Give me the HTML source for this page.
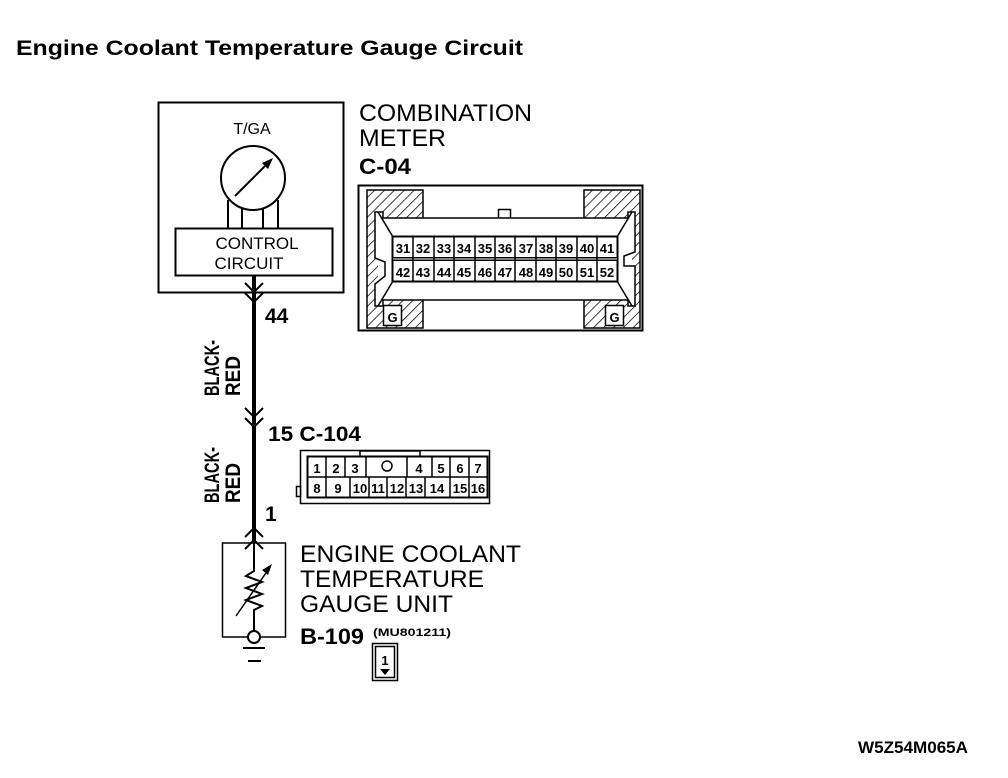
<!DOCTYPE html>
<html><head><meta charset="utf-8"><style>
html,body{margin:0;padding:0;background:#fff;}
svg{display:block;}
text{font-family:"Liberation Sans",sans-serif;fill:#000;}
.b{font-weight:bold;}
.pin{font-size:13px;font-weight:bold;text-anchor:middle;}
</style></head><body>
<svg width="1008" height="778" viewBox="0 0 1008 778" xmlns="http://www.w3.org/2000/svg">
<defs>
<pattern id="h" width="7" height="7" patternUnits="userSpaceOnUse" patternTransform="rotate(45)">
<rect width="7" height="7" fill="#fff"/><line x1="0" y1="0" x2="0" y2="7" stroke="#000" stroke-width="1.5"/>
</pattern>
</defs>
<text x="16" y="55" class="b" font-size="21" textLength="507" lengthAdjust="spacingAndGlyphs">Engine Coolant Temperature Gauge Circuit</text>

<!-- meter box -->
<rect x="158.5" y="102.5" width="185" height="190" fill="none" stroke="#000" stroke-width="2"/>
<text x="252" y="134" font-size="16" text-anchor="middle">T/GA</text>
<circle cx="253" cy="178" r="32" fill="none" stroke="#000" stroke-width="2"/>
<line x1="235" y1="196" x2="270" y2="161" stroke="#000" stroke-width="2"/>
<polygon points="273,158 262,163 268,169" fill="#000"/>
<g stroke="#000" stroke-width="2">
<line x1="228" y1="200" x2="228" y2="228"/><line x1="242" y1="208" x2="242" y2="228"/>
<line x1="263" y1="208" x2="263" y2="228"/><line x1="278" y1="200" x2="278" y2="228"/>
</g>
<rect x="175.5" y="228.5" width="157" height="47" fill="none" stroke="#000" stroke-width="2"/>
<text x="257" y="249" font-size="17" text-anchor="middle">CONTROL</text>
<text x="249" y="269" font-size="17" text-anchor="middle">CIRCUIT</text>

<!-- wire -->
<line x1="254" y1="276" x2="254" y2="543" stroke="#000" stroke-width="4"/>
<g fill="none" stroke="#000" stroke-width="2">
<polyline points="245,283 254,292 263,283"/><polyline points="245,293 254,302 263,293"/>
<polyline points="245,408 254,417 263,408"/><polyline points="245,418 254,427 263,418"/>
<polyline points="245,537 254,528 263,537"/><polyline points="245,549 254,540 263,549"/>
</g>
<text x="265" y="323" class="b" font-size="21">44</text>
<text x="268" y="441" class="b" font-size="21" textLength="93" lengthAdjust="spacingAndGlyphs">15 C-104</text>
<text x="265" y="521" class="b" font-size="21">1</text>
<g transform="translate(219,368) rotate(-90)"><text x="-28" y="0" class="b" font-size="21" textLength="56" lengthAdjust="spacingAndGlyphs">BLACK-</text></g>
<g transform="translate(240,368) rotate(-90)"><text x="-28" y="0" class="b" font-size="21" textLength="40" lengthAdjust="spacingAndGlyphs">RED</text></g>
<g transform="translate(219,475) rotate(-90)"><text x="-28" y="0" class="b" font-size="21" textLength="56" lengthAdjust="spacingAndGlyphs">BLACK-</text></g>
<g transform="translate(240,475) rotate(-90)"><text x="-28" y="0" class="b" font-size="21" textLength="40" lengthAdjust="spacingAndGlyphs">RED</text></g>

<!-- combination meter -->
<text x="359" y="121" font-size="24" textLength="173" lengthAdjust="spacingAndGlyphs">COMBINATION</text>
<text x="359" y="146" font-size="24" textLength="87" lengthAdjust="spacingAndGlyphs">METER</text>
<text x="359" y="174" class="b" font-size="22" textLength="52" lengthAdjust="spacingAndGlyphs">C-04</text>
<rect x="358.5" y="185.5" width="284" height="145" fill="#fff" stroke="#000" stroke-width="2"/>
<rect x="367" y="190" width="56" height="138" fill="url(#h)" stroke="#000" stroke-width="1.5"/>
<rect x="584" y="190" width="56" height="138" fill="url(#h)" stroke="#000" stroke-width="1.5"/>
<rect x="378" y="218" width="254" height="82" fill="#fff"/>
<rect x="498.5" y="209.5" width="12" height="9" fill="#fff" stroke="#000" stroke-width="1.5"/>
<polygon points="375,212 383,212 383,218 628,218 628,212 635,212 635,252 624,256 624,266 635,266 635,306 628,306 628,300 383,300 383,306 375,306 375,284 385,276 385,262 375,258" fill="#fff" stroke="#000" stroke-width="1.5"/>
<g stroke="#000" stroke-width="1.5" fill="none">
<line x1="378" y1="212" x2="393" y2="237"/><line x1="632" y1="212" x2="617" y2="237"/>
<line x1="378" y1="306" x2="393" y2="281"/><line x1="632" y1="306" x2="617" y2="281"/>
</g>
<rect x="392.5" y="236.5" width="225" height="45" fill="#fff" stroke="#000" stroke-width="2"/>
<line x1="393" y1="259" x2="617" y2="259" stroke="#000" stroke-width="4"/>
<line x1="393" y1="259" x2="617" y2="259" stroke="#fff" stroke-width="1"/>
<g stroke="#000" stroke-width="1.5">
<line x1="413" y1="237" x2="413" y2="281"/><line x1="434" y1="237" x2="434" y2="281"/><line x1="454" y1="237" x2="454" y2="281"/><line x1="475" y1="237" x2="475" y2="281"/><line x1="495" y1="237" x2="495" y2="281"/><line x1="515" y1="237" x2="515" y2="281"/><line x1="536" y1="237" x2="536" y2="281"/><line x1="556" y1="237" x2="556" y2="281"/><line x1="577" y1="237" x2="577" y2="281"/><line x1="597" y1="237" x2="597" y2="281"/>
</g>
<g>
<text x="403" y="253" class="pin">31</text><text x="423" y="253" class="pin">32</text><text x="444" y="253" class="pin">33</text><text x="464" y="253" class="pin">34</text><text x="485" y="253" class="pin">35</text><text x="505" y="253" class="pin">36</text><text x="526" y="253" class="pin">37</text><text x="546" y="253" class="pin">38</text><text x="566" y="253" class="pin">39</text><text x="587" y="253" class="pin">40</text><text x="607" y="253" class="pin">41</text>
<text x="403" y="277" class="pin">42</text><text x="423" y="277" class="pin">43</text><text x="444" y="277" class="pin">44</text><text x="464" y="277" class="pin">45</text><text x="485" y="277" class="pin">46</text><text x="505" y="277" class="pin">47</text><text x="526" y="277" class="pin">48</text><text x="546" y="277" class="pin">49</text><text x="566" y="277" class="pin">50</text><text x="587" y="277" class="pin">51</text><text x="607" y="277" class="pin">52</text>
</g>
<rect x="383.5" y="305.5" width="18" height="20" fill="#fff" stroke="#000" stroke-width="1.5"/>
<text x="392.5" y="322" class="pin" font-size="15">G</text>
<rect x="605.5" y="305.5" width="18" height="20" fill="#fff" stroke="#000" stroke-width="1.5"/>
<text x="614.5" y="322" class="pin" font-size="15">G</text>

<!-- C-104 connector -->
<rect x="300.5" y="450.5" width="189" height="53" fill="#fff" stroke="#000" stroke-width="1.5"/>
<rect x="296.5" y="486.5" width="4" height="10" fill="#fff" stroke="#000" stroke-width="1.5"/>
<polyline points="360,457 360,451 420,451 420,457" fill="none" stroke="#000" stroke-width="1.5"/>
<rect x="307.5" y="456.5" width="180" height="41" fill="#fff" stroke="#000" stroke-width="2"/>
<line x1="308" y1="477" x2="487" y2="477" stroke="#000" stroke-width="1.5"/>
<g stroke="#000" stroke-width="1.5">
<line x1="326" y1="457" x2="326" y2="497"/><line x1="345" y1="457" x2="345" y2="477"/><line x1="366" y1="457" x2="366" y2="477"/><line x1="407" y1="457" x2="407" y2="477"/><line x1="432" y1="457" x2="432" y2="477"/><line x1="450" y1="457" x2="450" y2="497"/><line x1="469" y1="457" x2="469" y2="497"/>
<line x1="350" y1="477" x2="350" y2="497"/><line x1="369" y1="477" x2="369" y2="497"/><line x1="387" y1="477" x2="387" y2="497"/><line x1="406" y1="477" x2="406" y2="497"/><line x1="425" y1="477" x2="425" y2="497"/>
</g>
<circle cx="387" cy="466" r="5" fill="none" stroke="#000" stroke-width="1.5"/>
<text x="317" y="473" class="pin">1</text><text x="336" y="473" class="pin">2</text><text x="355" y="473" class="pin">3</text><text x="419" y="473" class="pin">4</text><text x="441" y="473" class="pin">5</text><text x="460" y="473" class="pin">6</text><text x="478" y="473" class="pin">7</text>
<text x="317" y="493" class="pin">8</text><text x="338" y="493" class="pin">9</text><text x="360" y="493" class="pin">10</text><text x="378" y="493" class="pin">11</text><text x="397" y="493" class="pin">12</text><text x="416" y="493" class="pin">13</text><text x="437" y="493" class="pin">14</text><text x="460" y="493" class="pin">15</text><text x="478" y="493" class="pin">16</text>

<!-- sensor -->
<polyline points="254,543 222.5,543 222.5,637 248,637" fill="none" stroke="#000" stroke-width="1.5"/>
<polyline points="260,637 285.5,637 285.5,543 254,543" fill="none" stroke="#000" stroke-width="1.5"/>
<polyline points="254,543 254,571 246,576 262,582 246,588 262,594 246,600 262,606 254,610 254,631" fill="none" stroke="#000" stroke-width="2"/>
<line x1="236" y1="616" x2="268" y2="570" stroke="#000" stroke-width="1.5"/>
<polygon points="272,564 262,570 268,575" fill="#000"/>
<circle cx="254" cy="637" r="6" fill="#fff" stroke="#000" stroke-width="2"/>
<line x1="243" y1="648" x2="265" y2="648" stroke="#000" stroke-width="2"/>
<line x1="248" y1="661" x2="261" y2="661" stroke="#000" stroke-width="2"/>
<text x="300" y="562" font-size="24" textLength="221" lengthAdjust="spacingAndGlyphs">ENGINE COOLANT</text>
<text x="300" y="587" font-size="24" textLength="184" lengthAdjust="spacingAndGlyphs">TEMPERATURE</text>
<text x="300" y="612" font-size="24" textLength="153" lengthAdjust="spacingAndGlyphs">GAUGE UNIT</text>
<text x="300" y="644" class="b" font-size="22" textLength="64" lengthAdjust="spacingAndGlyphs">B-109</text>
<text x="373" y="636" class="b" font-size="11" textLength="78" lengthAdjust="spacingAndGlyphs">(MU801211)</text>
<rect x="372.5" y="643.5" width="25" height="37" fill="none" stroke="#000" stroke-width="1.5"/>
<rect x="375.5" y="646.5" width="19" height="31" fill="none" stroke="#000" stroke-width="1.5"/>
<text x="385" y="665" class="pin" font-size="15">1</text>
<polygon points="380,669 390,669 385,675" fill="#000"/>

<text x="858" y="753" class="b" font-size="17" textLength="110" lengthAdjust="spacingAndGlyphs">W5Z54M065A</text>
</svg>
</body></html>
